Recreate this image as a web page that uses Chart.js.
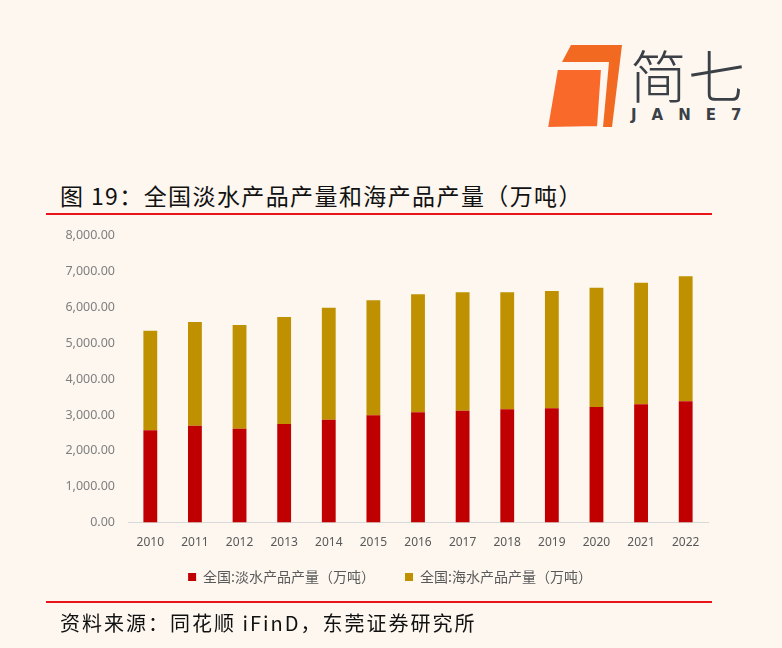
<!DOCTYPE html>
<html>
<head>
<meta charset="utf-8">
<script src="https://cdn.jsdelivr.net/npm/chart.js@4.4.1/dist/chart.umd.min.js"></script>
<style>
  html, body { margin: 0; padding: 0; }
  body { width: 782px; height: 648px; background: #fdf7f0; position: relative; overflow: hidden;
         font-family: "Noto Sans CJK SC", "Noto Sans", sans-serif; }
  #logo { position: absolute; left: 540px; top: 40px; }
  .brand { position: absolute; left: 630px; top: 45px; font-size: 57px; color: #3b4046; font-weight: 300; letter-spacing: 1px; line-height: 1; }
  .brand-en { position: absolute; left: 631px; top: 108px; font-family: "DejaVu Sans", sans-serif; font-size: 15px; font-weight: bold; color: #3b4046; letter-spacing: 15px; line-height: 1; }
  .title { position: absolute; left: 60px; top: 184px; font-size: 23px; color: #111; line-height: 1; letter-spacing: 1.4px; }
  .rule { position: absolute; left: 46px; width: 666px; height: 2px; background: #e8141a; }
  .source { position: absolute; left: 60px; top: 613px; font-size: 20px; color: #111; line-height: 1; letter-spacing: 2px; }
  #wrap { position: absolute; left: 40px; top: 215px; width: 680px; height: 402px; }
</style>
</head>
<body>
<svg id="logo" width="90" height="95" viewBox="540 40 90 95">
  <polygon points="571,45 622,45 612,127 603,127 609,62 562,62" fill="#f26a21"/>
  <polygon points="557,69 602,69 598,127 547,128" fill="#f8692a" stroke="#fdf7f0" stroke-width="2"/>
</svg>
<div class="brand">简七</div>
<div class="brand-en">JANE7</div>

<div id="wrap"><canvas id="chartBar"></canvas></div>

<div class="title">图 19：全国淡水产品产量和海产品产量（万吨）</div>
<div class="rule" style="top:213px"></div>
<div class="rule" style="top:601px"></div>
<div class="source">资料来源：同花顺 iFinD，东莞证券研究所</div>

<script>
// datos (万吨)
var years = ['2010', '2011', '2012', '2013', '2014', '2015', '2016', '2017', '2018', '2019', '2020', '2021', '2022'];
var freshwater = [2575, 2702, 2618, 2749, 2869, 2992, 3075, 3120, 3159, 3187, 3223, 3298, 3382];
var marine = [2774, 2888, 2889, 2981, 3120, 3203, 3287, 3298, 3259, 3267, 3323, 3387, 3482];
var yTicks = [0, 1000, 2000, 3000, 4000, 5000, 6000, 7000, 8000];

// mueve la leyenda a la posicion del original (padding grande solo para separar los items)
var legendShift = {
    id: 'legendShift',
    afterLayout: function (chart) {
        var lg = chart.legend;
        lg.left += 16; lg.right += 16;
        lg.top -= 23; lg.bottom -= 23;
    }
};

var chartInstance = new Chart(document.getElementById('chartBar'), {
    type: 'bar',
    data: {
        labels: years,
        datasets: [{
            label: '全国:淡水产品产量（万吨）',
            data: freshwater,
            backgroundColor: '#c00000',
        }, {
            label: '全国:海水产品产量（万吨）',
            data: marine,
            backgroundColor: '#bf9000',
        }],
    },
    plugins: [legendShift],
    options: {
        responsive: true,
        maintainAspectRatio: false,
        animation: false,
        layout: { padding: { top: 0, right: 12, bottom: 0, left: 0 } },
        datasets: { bar: { categoryPercentage: 1, barPercentage: 0.31 } },
        scales: {
            x: {
                stacked: true,
                grid: { display: false, drawTicks: false },
                border: { display: true, color: '#d9d9d9', width: 1 },
                ticks: { color: '#595959', font: { family: 'Noto Sans', size: 12 }, padding: 13 }
            },
            y: {
                stacked: true,
                min: 0,
                max: 8000,
                afterBuildTicks: function (s) { s.ticks = yTicks.map(function (v) { return { value: v }; }); },
                afterFit: function (s) { s.width = 88; },
                grid: { display: false, drawTicks: false },
                border: { display: false },
                ticks: {
                    color: '#7f7f7f',
                    font: { family: 'Noto Sans', size: 12.5 },
                    padding: 13,
                    callback: function (v) {
                        return Number(v).toLocaleString('en-US', { minimumFractionDigits: 2, maximumFractionDigits: 2 });
                    }
                }
            }
        },
        plugins: {
            legend: {
                position: 'bottom',
                labels: {
                    boxWidth: 8,
                    boxHeight: 8,
                    padding: 30,
                    color: '#595959',
                    font: { family: 'Noto Sans CJK SC', size: 14 }
                }
            },
            tooltip: { enabled: false }
        }
    }
});
</script>
</body>
</html>
